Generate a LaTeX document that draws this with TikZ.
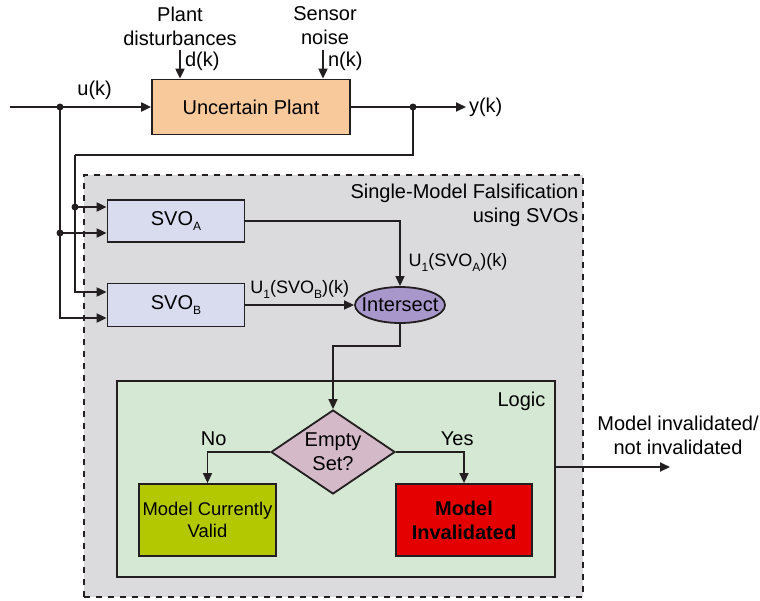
\documentclass[tikz,border=0pt]{standalone}
\usepackage{fontspec}
\setmainfont{Liberation Sans}
\setsansfont{Liberation Sans}
\usepackage{tikz}
\usetikzlibrary{arrows.meta,positioning,shapes.geometric,calc}
\usepackage{xcolor}
\definecolor{linegray}{HTML}{231F20}
\definecolor{plantfill}{HTML}{F8C99A}
\definecolor{svofill}{HTML}{D9DCEF}
\definecolor{outerfill}{HTML}{DBDBDD}
\definecolor{isectfill}{HTML}{A797CB}
\definecolor{logicfill}{HTML}{D5E8D4}
\definecolor{decfill}{HTML}{D4B9C9}
\definecolor{validfill}{HTML}{B4C800}
\definecolor{invalidfill}{HTML}{E50000}
\newcommand{\svosub}[1]{\raisebox{-2.2pt}{\fontsize{6}{6}\selectfont #1}}

\begin{document}
\begin{tikzpicture}[
  x=0.5pt, y=-0.5pt,
  font=\sffamily\fontsize{10}{12}\selectfont,
  >={Triangle[length=5pt,width=4.5pt]},
  block/.style={
    draw=linegray,
    fill=#1,
    line width=0.9pt,
    inner sep=0pt,
    align=center
  },
  sig/.style={
    draw=linegray,
    line width=1pt
  },
  thinsig/.style={
    draw=linegray,
    line width=0.7pt
  },
  junc/.style={
    circle,
    fill=linegray,
    inner sep=0pt,
    minimum size=3.5pt
  },
  lbl/.style={
    inner sep=1pt,
    font=\sffamily\fontsize{9}{11}\selectfont
  }
]
  \useasboundingbox (0,0) rectangle (760,600);

  % --- BACKGROUND REGIONS ---
  \node[block=outerfill, dashed, line width=0.8pt, minimum width=249.5pt, minimum height=211pt] (falsif) at (333.5,386) {};
  \node[anchor=north east, align=right, inner sep=0pt] (falsiftitle) at ($(falsif.north east)+(-5,9)$) {Single-Model Falsification\\using SVOs};

  \node[block=logicfill, line width=0.8pt, minimum width=219pt, minimum height=98pt] (logic) at (336,479) {};
  \node[anchor=north east, inner sep=0pt] (logictitle) at ($(logic.north east)+(-10,11)$) {Logic};

  % --- PLANT ---
  \node[block=plantfill, minimum width=99pt, minimum height=27.5pt] (plant) at (251,107) {Uncertain Plant};

  \node[align=center, inner sep=0pt] (distlbl) at (180,26) {Plant\\disturbances};
  \node[align=center, inner sep=0pt] (noiselbl) at (325,26) {Sensor\\noise};
  \coordinate (dtop) at (180,50);
  \coordinate (ntop) at (323,50);
  \draw[sig, ->] (dtop) -- (dtop |- plant.north) node[pos=0.4, right=1pt, inner sep=1pt] {d(k)};
  \draw[sig, ->] (ntop) -- (ntop |- plant.north) node[pos=0.4, right=1pt, inner sep=1pt] {n(k)};

  \coordinate (uin) at (10,107);
  \coordinate (ujunc) at (60,107);
  \coordinate (yjunc) at (413,107);
  \coordinate (yout) at (466,107);
  \draw[sig, ->] (uin) -- (plant.west) node[pos=0.6, above=3pt, inner sep=0pt] {u(k)};
  \draw[sig, ->] (plant.east) -- (yout) node[right=1pt, inner sep=0pt] {y(k)};

  % --- SVO BLOCKS ---
  \node[block=svofill, minimum width=68.5pt, minimum height=21pt] (svoa) at (176,221) {SVO\svosub{A}};
  \node[block=svofill, minimum width=68.5pt, minimum height=21.5pt] (svob) at (176,305) {SVO\svosub{B}};
  \node[block=isectfill, ellipse, minimum width=45pt, minimum height=18pt] (isect) at (400,305) {\makebox[0pt]{Intersect}};

  % feedback of y(k) and u(k) into the SVOs
  \coordinate (fb) at (75,155);
  \coordinate (ya) at (75,207);
  \coordinate (ua) at (60,233);
  \draw[sig] (yjunc) |- (fb);
  \draw[sig, ->] (fb) |- ([yshift=6.5pt]svob.west);
  \draw[sig, ->] (ya) -- (ya -| svoa.west);
  \draw[sig, ->] (ujunc) |- ([yshift=-6.5pt]svob.west);
  \draw[sig, ->] (ua) -- (ua -| svoa.west);

  \node[junc] at (ujunc) {};
  \node[junc] at (yjunc) {};
  \node[junc] at (ya) {};
  \node[junc] at (ua) {};

  \draw[thinsig, ->] (svoa.east) -| (isect.north)
    node[pos=0.82, right=3pt, lbl] {U\svosub{1}(SVO\svosub{A})(k)};
  \draw[thinsig, ->] (svob.east) -- (isect.west)
    node[pos=0.5, above=2pt, lbl] {U\svosub{1}(SVO\svosub{B})(k)};

  % --- LOGIC ---
  \node[block=decfill, diamond, aspect=1.5, minimum width=62pt, minimum height=42pt] (dec) at (333,452) {Empty\\Set?};
  \node[block=validfill, minimum width=68.5pt, minimum height=36pt, font=\sffamily\fontsize{9.2}{11}\selectfont] (valid) at (207.5,520) {Model Currently\\Valid};
  \node[block=invalidfill, minimum width=68pt, minimum height=36pt, font=\sffamily\bfseries] (invalid) at (464,520) {Model\\Invalidated};

  \draw[thinsig, ->] (isect.south) -- ++(0,22) -| (dec.north);
  \draw[thinsig, ->] (dec.west) -| (valid.north) node[pos=0.45, above=3pt, inner sep=0pt] {No};
  \draw[thinsig, ->] (dec.east) -| (invalid.north) node[pos=0.45, above=3pt, inner sep=0pt] {Yes};

  \coordinate (verdict) at (670,467);
  \draw[sig, ->] ([yshift=6pt]logic.east) -- (verdict);
  \node[align=center, inner sep=0pt] (verdictlbl) at (678,435) {Model invalidated/\\not invalidated};

\end{tikzpicture}
\end{document}
